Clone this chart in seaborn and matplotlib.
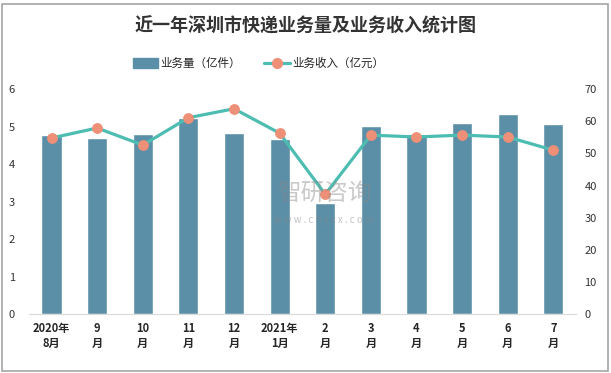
import matplotlib.pyplot as plt
import matplotlib.patches as mpatches
import matplotlib.lines as mlines
import numpy as np
import pandas as pd
import seaborn as sns

months = ['2020年\n8月', '9\n月', '10\n月', '11\n月', '12\n月', '2021年\n1月',
          '2\n月', '3\n月', '4\n月', '5\n月', '6\n月', '7\n月']
volume = [4.77, 4.71, 4.80, 5.22, 4.84, 4.66, 2.97, 5.03, 4.80, 5.11, 5.35, 5.08]
revenue = [54.8, 57.9, 52.6, 61.1, 63.9, 56.3, 37.3, 55.7, 55.1, 55.7, 55.1, 51.0]

BAR_COLOR = '#5b8fa7'
LINE_COLOR = '#4dbdb2'
DOT_COLOR = '#ee8f78'


def setup_style():
    sns.set_style('white')
    plt.rcParams['font.family'] = ['Noto Sans CJK SC', 'DejaVu Sans']


setup_style()

df = pd.DataFrame({'month': months, 'volume': volume, 'revenue': revenue})
df['pos'] = np.arange(len(df))

fig = plt.figure(figsize=(6.11, 3.73), dpi=100)
ax = fig.add_axes([0.047, 0.158, 0.896, 0.603])

sns.barplot(data=df, x='month', y='volume', color=BAR_COLOR, width=0.44,
            saturation=1, ax=ax)
ax.set_ylim(0, 6)
ax.set_xlim(-0.5, 11.5)
ax.set_xlabel('')
ax.set_ylabel('')
ax.set_yticks(range(0, 7))
ax.tick_params(axis='y', length=0, labelsize=8, colors='#333333', pad=10)
ax.tick_params(axis='x', length=0, labelsize=8, pad=6)
for lbl in ax.get_xticklabels():
    lbl.set_fontweight('bold')
for s in ['top', 'right', 'left']:
    ax.spines[s].set_visible(False)
ax.spines['bottom'].set_color('#d9d9d9')

ax2 = ax.twinx()
sns.lineplot(data=df, x='pos', y='revenue', color=LINE_COLOR, linewidth=2.3,
             marker='o', markersize=7, markerfacecolor=DOT_COLOR,
             markeredgecolor=DOT_COLOR, ax=ax2)
ax2.set_ylim(0, 70)
ax2.set_yticks(range(0, 71, 10))
ax2.set_ylabel('')
ax2.tick_params(axis='y', length=0, labelsize=8, colors='#333333', pad=6)
for s in ['top', 'right', 'left', 'bottom']:
    ax2.spines[s].set_visible(False)

# watermark
fig.text(0.53, 0.48, '智研咨询', fontsize=17, color='#888888', alpha=0.45,
         ha='center', va='center')
fig.text(0.53, 0.41, 'w w w . c h y x x . c o m', fontsize=7, color='#888888',
         alpha=0.5, ha='center', va='center')

fig.suptitle('近一年深圳市快递业务量及业务收入统计图', y=0.955, fontsize=13,
             fontweight='bold', color='#333333')

handles = [
    mpatches.Patch(color=BAR_COLOR, label='业务量（亿件）'),
    mlines.Line2D([], [], color=LINE_COLOR, linewidth=2.3, marker='o',
                  markersize=7, markerfacecolor=DOT_COLOR,
                  markeredgecolor=DOT_COLOR, label='业务收入（亿元）'),
]
fig.legend(handles=handles, loc='center', bbox_to_anchor=(0.423, 0.83), ncol=2,
           frameon=False, fontsize=8.3, handlelength=2.2, handleheight=0.9,
           columnspacing=2.0, handletextpad=0.2)

# outer frame
fig.patches.append(mpatches.Rectangle((0.004, 0.006), 0.991, 0.984,
                                      transform=fig.transFigure, fill=False,
                                      edgecolor='#a6a6a6', linewidth=1.2))

fig.savefig('out.png', dpi=100)
